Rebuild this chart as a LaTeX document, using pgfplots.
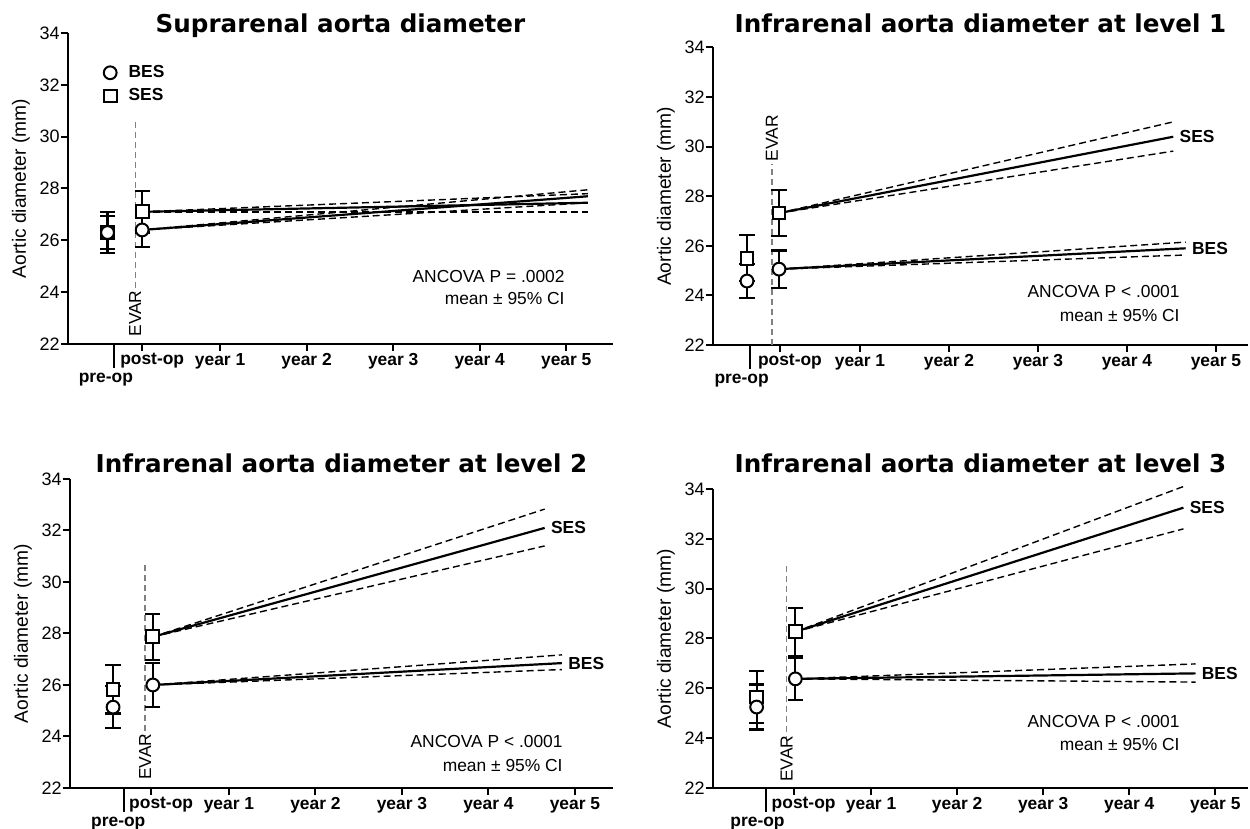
\documentclass[border=0pt]{standalone}
\usepackage{fontspec}
\setmainfont{Liberation Sans}
\newfontfamily\titlefont{DejaVu Sans}
\usepackage{pgfplots}
\pgfplotsset{compat=1.18}
\newcommand{\fsm}{\fontsize{8.7}{10}\selectfont}
\pgfplotsset{
  panel/.style={
    scale only axis, anchor=south west, clip=false,
    axis lines*=left,
    axis line style={line width=1pt},
    every tick/.style={line width=1pt, black},
    major tick length=3.5pt,
    tick align=outside,
    ymin=22, ymax=34, ytick={22,24,...,34},
    xtick={0.1,1,2,3,4,5},
    xticklabels={\hspace{10pt}post-op,year 1,year 2,year 3,year 4,year 5},
    xticklabel style={font=\bfseries\fsm, inner sep=1pt},
    yticklabel style={font=\fontsize{9}{10}\selectfont, inner xsep=0.5pt},
    /pgf/number format/assume math mode=true,
    ylabel={Aortic diameter (mm)},
    ylabel style={font=\fontsize{9.6}{11}\selectfont, at={([xshift=-23.5pt]axis description cs:0,0.5)}, anchor=center},
  },
  fitline/.style={black, line width=1.1pt, forget plot},
  ciline/.style={black, line width=0.7pt, dash pattern=on 3.5pt off 2pt, forget plot},
  evarline/.style={gray, line width=0.6pt, dash pattern=on 3pt off 2pt, forget plot},
  grp/.style={only marks, mark=#1, mark size=3.2pt, forget plot,
    mark options={fill=white, draw=black, line width=1pt, solid},
    error bars/.cd, y dir=both, y explicit,
    error bar style={line width=1.1pt, black},
    error mark options={rotate=90, mark size=3.8pt, line width=1.1pt, black}},
}
\tikzset{
  endlab/.style={font=\bfseries\fsm, anchor=west, inner sep=0pt, xshift=3pt},
  evartext/.style={font=\fsm, rotate=90, anchor=west, inner sep=0pt},
  preop/.style={font=\bfseries\fsm, anchor=base, yshift=-19.5pt},
  ttl/.style={anchor=base, inner sep=0pt, font=\titlefont\bfseries\fontsize{12.3}{14}\selectfont},
}
\begin{document}
\begin{tikzpicture}
\useasboundingbox (0,0) rectangle (625pt,414.5pt);

% ---------------- Top left ----------------
\begin{axis}[panel, at={(34pt,242.5pt)}, width=272.5pt, height=155.5pt,
  xmin=-0.757, xmax=5.54,
  legend style={at={(axis cs:-0.41,32.85)}, anchor=north west, draw=none, fill=none,
    font=\bfseries\fsm, row sep=2pt, inner sep=0pt, nodes={inner sep=1pt}},
  legend cell align=left,
  legend image code/.code={\draw[#1] plot coordinates {(0.2cm,0cm)}; \path (0cm,0cm) (0.2cm+8pt,0cm);}]
\addlegendimage{only marks, mark=*, mark size=3.2pt, mark options={fill=white, line width=1pt}}
\addlegendentry{BES}
\addlegendimage{only marks, mark=square*, mark size=3.2pt, mark options={fill=white, line width=1pt}}
\addlegendentry{SES}
\addplot[evarline] coordinates {(0.02,30.55) (0.02,23.98)};
\node[evartext] at (axis cs:0.02,22.27) {EVAR};
\draw[line width=1pt] (axis cs:-0.23,22) -- ([yshift=-12pt]axis cs:-0.23,22);
\node[preop] at (axis cs:-0.32,22) {pre-op};
\addplot[grp=square*] table[x=x,y=y,y error=e] {
x y e
-0.3 26.3 0.63
0.1 27.1 0.8
};
\addplot[grp=*] table[x=x,y=y,y error=e] {
x y e
-0.3 26.3 0.8
0.1 26.4 0.65
};
\addplot[ciline] coordinates {(0.1,27.1) (5.25,27.8)};
\addplot[ciline] coordinates {(0.1,27.1) (5.25,27.1)};
\addplot[fitline] coordinates {(0.1,27.1) (5.25,27.45)};
\addplot[ciline] coordinates {(0.1,26.4) (5.25,27.95)};
\addplot[ciline] coordinates {(0.1,26.4) (5.25,27.45)};
\addplot[fitline] coordinates {(0.1,26.4) (5.25,27.7)};
\end{axis}

% ---------------- Top right ----------------
\begin{axis}[panel, at={(356.5pt,242pt)}, width=267.5pt, height=148.75pt,
  xmin=-0.652, xmax=5.36]
\addplot[evarline] coordinates {(0.01,22) (0.01,29.3)};
\node[evartext] at (axis cs:0.01,29.4) {EVAR};
\draw[line width=1pt] (axis cs:-0.24,22) -- ([yshift=-12pt]axis cs:-0.24,22);
\node[preop] at (axis cs:-0.33,22) {pre-op};
\addplot[grp=square*] table[x=x,y=y,y error=e] {
x y e
-0.27 25.5 0.93
0.09 27.32 0.93
};
\addplot[grp=*] table[x=x,y=y,y error=e] {
x y e
-0.27 24.58 0.7
0.09 25.06 0.75
};
\addplot[ciline] coordinates {(0.09,27.32) (4.52,31.0)};
\addplot[ciline] coordinates {(0.09,27.32) (4.52,29.82)};
\addplot[fitline] coordinates {(0.09,27.32) (4.52,30.4)};
\addplot[ciline] coordinates {(0.09,25.06) (4.66,26.15)};
\addplot[ciline] coordinates {(0.09,25.06) (4.66,25.63)};
\addplot[fitline] coordinates {(0.09,25.06) (4.66,25.9)};
\node[endlab] at (axis cs:4.52,30.4) {SES};
\node[endlab] at (axis cs:4.66,25.9) {BES};
\end{axis}

% ---------------- Bottom left ----------------
\begin{axis}[panel, at={(35pt,20.5pt)}, width=271.5pt, height=154.5pt,
  xmin=-0.838, xmax=5.44]
\addplot[evarline] coordinates {(0.03,30.66) (0.03,24.0)};
\node[evartext] at (axis cs:0.03,22.31) {EVAR};
\draw[line width=1pt] (axis cs:-0.21,22) -- ([yshift=-12pt]axis cs:-0.21,22);
\node[preop] at (axis cs:-0.28,22) {pre-op};
\addplot[grp=square*] table[x=x,y=y,y error=e] {
x y e
-0.34 25.84 0.95
0.12 27.87 0.9
};
\addplot[grp=*] table[x=x,y=y,y error=e] {
x y e
-0.34 25.14 0.82
0.12 26.0 0.84
};
\addplot[ciline] coordinates {(0.12,27.87) (4.65,32.83)};
\addplot[ciline] coordinates {(0.12,27.87) (4.65,31.4)};
\addplot[fitline] coordinates {(0.12,27.87) (4.65,32.1)};
\addplot[ciline] coordinates {(0.12,26.0) (4.85,27.17)};
\addplot[ciline] coordinates {(0.12,26.0) (4.85,26.6)};
\addplot[fitline] coordinates {(0.12,26.0) (4.85,26.85)};
\node[endlab] at (axis cs:4.65,32.1) {SES};
\node[endlab] at (axis cs:4.85,26.85) {BES};
\end{axis}

% ---------------- Bottom right ----------------
\begin{axis}[panel, at={(356.5pt,20.5pt)}, width=267.5pt, height=149.5pt,
  xmin=-0.837, xmax=5.38]
\addplot[evarline] coordinates {(0.02,30.9) (0.02,24.0)};
\node[evartext] at (axis cs:0.02,22.24) {EVAR};
\draw[line width=1pt] (axis cs:-0.22,22) -- ([yshift=-12pt]axis cs:-0.22,22);
\node[preop] at (axis cs:-0.32,22) {pre-op};
\addplot[grp=square*] table[x=x,y=y,y error=e] {
x y e
-0.33 25.65 1.05
0.12 28.27 0.96
};
\addplot[grp=*] table[x=x,y=y,y error=e] {
x y e
-0.33 25.25 0.9
0.12 26.38 0.85
};
\addplot[ciline] coordinates {(0.12,28.27) (4.63,34.1)};
\addplot[ciline] coordinates {(0.12,28.27) (4.63,32.4)};
\addplot[fitline] coordinates {(0.12,28.27) (4.63,33.25)};
\addplot[ciline] coordinates {(0.12,26.38) (4.77,26.98)};
\addplot[ciline] coordinates {(0.12,26.38) (4.77,26.25)};
\addplot[fitline] coordinates {(0.12,26.38) (4.77,26.6)};
\node[endlab] at (axis cs:4.63,33.25) {SES};
\node[endlab] at (axis cs:4.77,26.6) {BES};
\end{axis}

% ---------------- Titles and notes ----------------
\node[ttl] at (170.25pt,398pt) {Suprarenal aorta diameter};
\node[ttl] at (490.25pt,398pt) {Infrarenal aorta diameter at level 1};
\node[ttl] at (170.75pt,178pt) {Infrarenal aorta diameter at level 2};
\node[ttl] at (490.25pt,178pt) {Infrarenal aorta diameter at level 3};
\begin{scope}[every node/.style={anchor=base east, inner sep=0pt, font=\fsm}]
\node at (282.5pt,273pt) {ANCOVA P = .0002};
\node at (282.5pt,262pt) {mean ± 95\% CI};
\node at (590pt,265.5pt) {ANCOVA P < .0001};
\node at (590pt,253.5pt) {mean ± 95\% CI};
\node at (281.5pt,40.5pt) {ANCOVA P < .0001};
\node at (281.5pt,28.5pt) {mean ± 95\% CI};
\node at (590pt,50.5pt) {ANCOVA P < .0001};
\node at (590pt,39pt) {mean ± 95\% CI};
\end{scope}
\end{tikzpicture}
\end{document}
